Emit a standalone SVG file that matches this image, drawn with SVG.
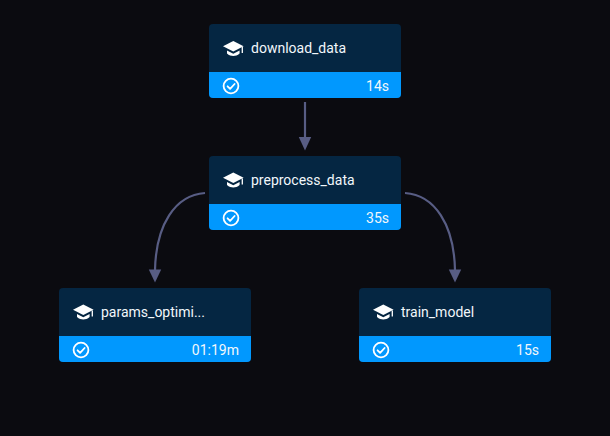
<svg xmlns="http://www.w3.org/2000/svg" width="610" height="436" viewBox="0 0 610 436">
<style>
.bg{fill:#0b0b10}
.head{fill:#052642}
.bar{fill:#0198fe}
.name{font:14px Roboto,"Liberation Sans",sans-serif;fill:#f2f7fb}
.time{font:14px Roboto,"Liberation Sans",sans-serif;fill:#f2f7fb;text-anchor:end}
.edge{fill:none;stroke:#585d84;stroke-width:2.2}
.tip{fill:#585d84}
.ring{fill:none;stroke:#fff;stroke-width:1.8}
.tick{fill:none;stroke:#fff;stroke-width:1.8;stroke-linecap:round;stroke-linejoin:round}
</style>
<defs>
<g id="cap"><path d="M0 5.200 10.300 0 20.600 5.200 10.300 10.400Z" fill="#fff"/><path d="M4 9.600 10.300 12.800 16.600 9.600V12.600C14.600 14.800 12.400 15 10.300 15 8.200 15 6 14.800 4 12.600Z" fill="#fff"/><path d="M19.300 6V12" stroke="#fff" stroke-width="1.300" fill="none"/></g>
<g id="check"><circle class="ring" r="7.400"/><path class="tick" d="M-3.400 0.300-0.900 2.800 3.600-2"/></g>
</defs>
<rect class="bg" width="610" height="436"/>
<g id="connectors">
<path class="edge" d="M305 102V138"/><path class="tip" d="M298.800 137H311.200L305 150.500Z"/>
<path class="edge" d="M205 193C175 195 156 225 155 270"/><path class="tip" d="M148.800 269.500H161.200L155 282.500Z"/>
<path class="edge" d="M405 193C435 195 454 225 455 270"/><path class="tip" d="M448.800 269.500H461.200L455 282.500Z"/>
</g>
<g id="download_data">
<rect class="head" x="209" y="24" width="192" height="74" rx="4"/><path class="bar" d="M209 72H401V94a4 4 0 0 1-4 4H213a4 4 0 0 1-4-4Z"/>
<use href="#cap" x="223" y="41"/><text class="name" x="251" y="52.500">download_data</text>
<use href="#check" x="231" y="86"/><text class="time" x="389" y="91">14s</text>
</g>
<g id="preprocess_data">
<rect class="head" x="209" y="156" width="192" height="74" rx="4"/><path class="bar" d="M209 204H401V226a4 4 0 0 1-4 4H213a4 4 0 0 1-4-4Z"/>
<use href="#cap" x="223" y="172.500"/><text class="name" x="251" y="185">preprocess_data</text>
<use href="#check" x="231" y="218"/><text class="time" x="389" y="223">35s</text>
</g>
<g id="params_optimization">
<rect class="head" x="59" y="288" width="192" height="74" rx="4"/><path class="bar" d="M59 336H251V358a4 4 0 0 1-4 4H63a4 4 0 0 1-4-4Z"/>
<use href="#cap" x="73" y="304.500"/><text class="name" x="101" y="317">params_optimi...</text>
<use href="#check" x="81" y="350"/><text class="time" x="239" y="355">01:19m</text>
</g>
<g id="train_model">
<rect class="head" x="359" y="288" width="192" height="74" rx="4"/><path class="bar" d="M359 336H551V358a4 4 0 0 1-4 4H363a4 4 0 0 1-4-4Z"/>
<use href="#cap" x="373" y="304.500"/><text class="name" x="401" y="317">train_model</text>
<use href="#check" x="381" y="350"/><text class="time" x="539" y="355">15s</text>
</g>
</svg>
